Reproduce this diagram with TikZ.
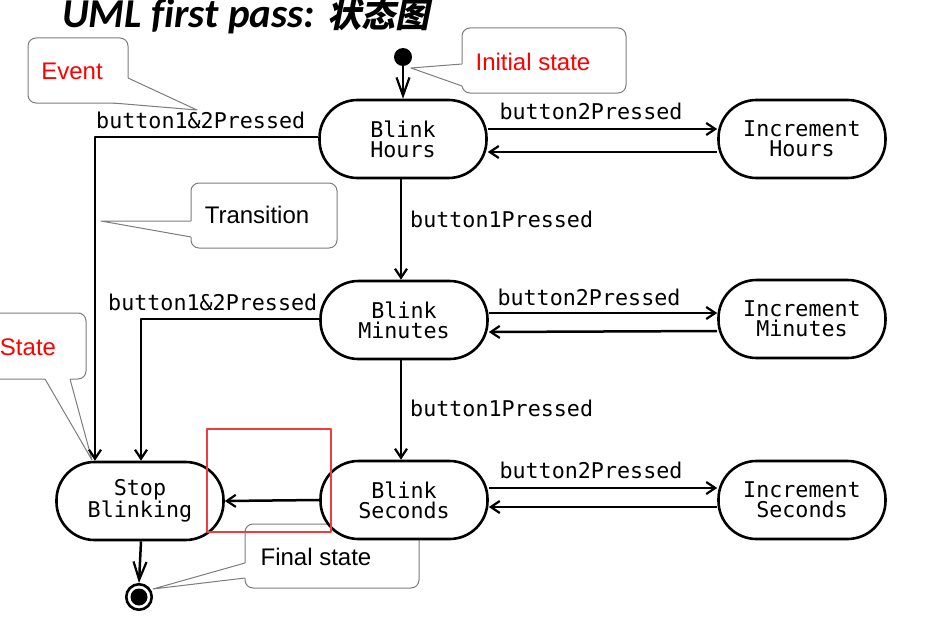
\documentclass[tikz,border=0pt]{standalone}
\usepackage{fontspec}
\setmainfont{Liberation Sans}
\newfontfamily\monof{DejaVu Sans Mono}
\newfontfamily\titlef[Ligatures=NoCommon]{Carlito}
\newfontfamily\cjk[FakeSlant=0.2]{Noto Sans CJK SC Bold}
\usetikzlibrary{arrows.meta}
\definecolor{callgray}{RGB}{125,125,125}
\definecolor{redbox}{RGB}{240,60,60}
\begin{document}
\begin{tikzpicture}[x=1pt,y=-1pt,line join=round,
  state/.style={draw,line width=2.6pt,fill=white,minimum width=167pt,minimum height=78pt,
    rounded corners=38pt,font=\monof\fontsize{21.7}{20}\selectfont,align=center,inner sep=0pt},
  lbl/.style={font=\monof\fontsize{21.7}{20}\selectfont,inner sep=0pt},
  trans/.style={line width=2.5pt,-{Straight Barb[length=9pt,width=12pt,line width=2.2pt]}},
  bigtrans/.style={line width=2.5pt,-{Straight Barb[length=18pt,width=13pt,line width=2.2pt]}},
  callbox/.style={draw=callgray,line width=1pt,fill=white,rounded corners=8pt},
  calltail/.style={draw=callgray,line width=1pt},
  ctext/.style={font=\fontsize{24}{28}\selectfont,inner sep=0pt}]
\useasboundingbox[fill=white] (0,0) rectangle (937,618);

% title
\node[anchor=base west,inner sep=0pt] (title) at (62,28)
  {\titlef\bfseries\itshape\fontsize{41}{41}\selectfont UML first pass: {\cjk\fontsize{34}{34}\selectfont 状态图}};

% ---- callouts (under the states) ----
% Event
\draw[callbox] (28,38) rectangle (128,103);
\coordinate (evtip) at (197,110);
\fill[white] (128,78) -- (evtip) -- (113,103) -- (113,78) -- cycle;
\draw[calltail] (128,78) -- (evtip) -- (113,103);
\node[ctext,text=red] (evt) at (72,71) {Event};
% Initial state
\draw[callbox] (462,28) rectangle (626,93);
\coordinate (initip) at (411,68);
\fill[white] (462,64) -- (initip) -- (462,86) -- (470,86) -- (470,64) -- cycle;
\draw[calltail] (462,64) -- (initip) -- (462,86);
\node[ctext,text=red] (initxt) at (533,62) {Initial state};
% Transition
\draw[callbox] (191,183) rectangle (337,248);
\coordinate (trtip) at (101,221);
\fill[white] (191,221) -- (trtip) -- (191,237) -- (198,237) -- (198,221) -- cycle;
\draw[calltail] (191,221) -- (trtip) -- (191,237);
\node[ctext] (trtxt) at (257,215) {Transition};
% State
\draw[callbox] (-20,313) rectangle (86,379);
\coordinate (sttip) at (92,460);
\fill[white] (45,379) -- (sttip) -- (70,379) -- (70,372) -- (45,372) -- cycle;
\draw[calltail] (45,379) -- (sttip) -- (70,379);
\node[ctext,text=red] (sttxt) at (28,347) {State};
% Final state
\draw[callbox] (245,524) rectangle (419,588);
\coordinate (fntip) at (153,589);
\fill[white] (245,563) -- (fntip) -- (245,578) -- (252,578) -- (252,563) -- cycle;
\draw[calltail] (245,563) -- (fntip) -- (245,578);
\node[ctext] (fntxt) at (316,557) {Final state};

% ---- states ----
\node[state] (bh) at (403,139) {Blink\\Hours};
\node[state] (ih) at (802,139) {Increment\\Hours};
\node[state] (bm) at (404,320) {Blink\\Minutes};
\node[state] (im) at (802,319) {Increment\\Minutes};
\node[state] (bs) at (404,500) {Blink\\Seconds};
\node[state] (is) at (802,500) {Increment\\Seconds};
\node[state] (sb) at (140,501) {Stop\\Blinking};

% initial and final
\node[circle,fill=black,minimum size=18pt,inner sep=0pt] (init) at (403,57) {};
\node[circle,draw,line width=2.6pt,minimum size=25.5pt,inner sep=0pt] (fin) at (139,597) {};
\node[circle,fill=black,minimum size=17pt,inner sep=0pt] (finin) at (139,597) {};

\draw[bigtrans] (init) -- (bh.north);
\draw[bigtrans] ([xshift=1pt]sb.south) -- (fin.north);

% horizontal transitions
\draw[trans] ([yshift=10pt]bh.east) -- ([yshift=10pt]ih.west);
\draw[trans] ([yshift=-13pt]ih.west) -- ([yshift=-13pt]bh.east);
\draw[trans] ([yshift=7pt]bm.east) -- ([yshift=6pt]im.west);
\draw[trans] ([yshift=-12pt]im.west) -- ([yshift=-12pt]bm.east);
\draw[trans] ([yshift=12pt]bs.east) -- ([yshift=12pt]is.west);
\draw[trans] ([yshift=-7pt]is.west) -- ([yshift=-7pt]bs.east);
\node[lbl,anchor=base] (l1) at (591,119) {button2Pressed};
\node[lbl,anchor=base] (l2) at (589,305) {button2Pressed};
\node[lbl,anchor=base] (l3) at (591,478) {button2Pressed};

% vertical transitions
\draw[trans] ([xshift=-2pt]bh.south) -- ([xshift=-3pt]bm.north);
\draw[trans] ([xshift=-3pt]bm.south) -- ([xshift=-3pt]bs.north);
\node[lbl,anchor=base west] (l4) at (410,227) {button1Pressed};
\node[lbl,anchor=base west] (l5) at (410,416) {button1Pressed};

% to Stop Blinking
\draw[trans] ([yshift=2pt]bh.west) -| ([xshift=-45pt]sb.north);
\draw[trans] ([yshift=1pt]bm.west) -| ([xshift=1pt]sb.north);
\draw[trans] (bs.west) -- (sb.east);
\node[lbl,anchor=base west] (l6) at (96,128) {button1\&2Pressed};
\node[lbl,anchor=base west] (l7) at (108,310) {button1\&2Pressed};

% red highlight box
\draw[draw=redbox,line width=2pt] (207,429) rectangle (331,532);
\end{tikzpicture}
\end{document}
